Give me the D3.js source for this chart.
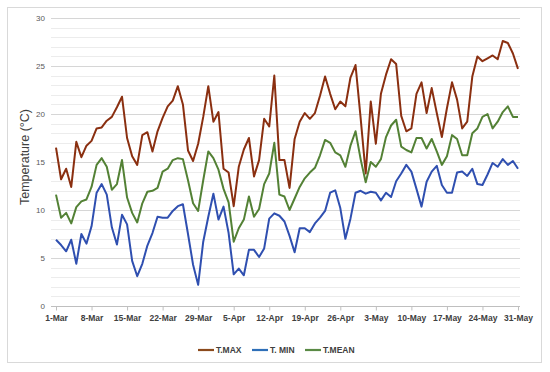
<!DOCTYPE html>
<html><head><meta charset="utf-8">
<script src="https://cdn.jsdelivr.net/npm/d3@7"></script>
<style>body{margin:0;background:#fff}svg{display:block}</style>
</head><body>
<svg id="c" width="550" height="372"></svg>
<script>
// Daily values, 1-Mar .. 31-May (92 days)
const tMax = [16.5,13.2,14.3,12.4,17.1,15.5,16.7,17.2,18.5,18.6,19.3,19.7,20.7,21.8,17.5,15.6,14.7,17.8,18.1,16.1,
  18.2,19.6,20.8,21.4,22.9,21.0,16.2,15.1,16.9,19.7,22.9,19.2,20.2,14.3,13.9,10.4,14.5,16.3,17.5,13.5,
  15.2,19.5,18.7,24.0,15.2,15.2,12.3,17.4,19.2,20.1,19.5,20.1,21.9,23.9,22.1,20.5,21.3,20.8,23.8,25.1,
  19.6,13.8,21.3,16.9,22.1,24.1,25.7,25.2,19.8,18.2,18.5,22.1,23.3,20.1,22.7,20.1,17.6,20.6,23.3,21.5,
  18.5,19.2,23.9,26.0,25.5,25.8,26.1,25.7,27.6,27.4,26.3,24.7];
const tMin = [6.9,6.35,5.7,6.9,4.4,7.5,6.5,8.3,11.8,12.7,11.6,8.2,6.4,9.5,8.5,4.7,3.1,4.4,6.3,7.6,
  9.3,9.2,9.2,9.9,10.4,10.6,7.5,4.3,2.2,6.7,9.3,11.7,9.0,10.35,7.6,3.3,3.9,3.2,5.85,5.85,
  5.1,6.0,9.1,9.65,9.4,8.8,7.3,5.6,8.1,8.1,7.7,8.6,9.2,9.9,11.8,12.05,10.2,7.0,9.1,11.8,
  12.0,11.7,11.9,11.8,11.0,11.8,11.35,13.0,13.8,14.7,14.0,12.2,10.35,12.95,14.0,14.6,12.6,11.8,11.8,13.9,
  14.0,13.55,14.3,12.7,12.6,13.7,14.9,14.5,15.3,14.7,15.1,14.3];
const tMean = [11.6,9.2,9.7,8.6,10.3,10.9,11.1,12.4,14.7,15.4,14.5,12.1,12.7,15.2,11.3,9.7,8.7,10.7,11.9,12.0,
  12.3,14.0,14.3,15.2,15.4,15.3,13.1,10.7,9.9,13.1,16.1,15.4,14.2,12.2,10.8,6.7,8.1,9.0,11.4,9.3,
  10.1,12.7,13.8,17.0,11.6,11.4,10.0,11.2,12.4,13.3,13.9,14.4,15.7,17.3,17.0,16.0,15.7,14.5,16.7,18.2,
  15.3,12.9,15.0,14.5,15.3,17.6,18.8,19.4,16.6,16.25,16.0,17.5,17.5,16.4,17.4,16.1,14.7,15.6,17.8,17.4,
  15.7,15.7,18.0,18.5,19.7,20.0,18.5,19.2,20.2,20.8,19.7,19.7];
const tickLabels = ["1-Mar","8-Mar","15-Mar","22-Mar","29-Mar","5-Apr","12-Apr","19-Apr","26-Apr","3-May","10-May","17-May","24-May","31-May"];
const yTicks = [0,5,10,15,20,25,30];
const seriesNames = ["T.MAX","T. MIN","T.MEAN"];
const seriesColors = ["#8a2f10","#2f4fb0","#538135"];
const legendColors = ["#8b4a1c","#2f6fb8","#5a8a45"];

const days = d3.range(tMax.length);
const svg = d3.select("#c");
const x = d3.scalePoint().domain(days).range([56, 518]);
const y = d3.scaleLinear().domain([0, 30]).range([306, 18]);

// frame
svg.append("rect").attr("x",7.5).attr("y",7.5).attr("width",534).attr("height",355)
  .attr("fill","#fff").attr("stroke","#d9d9d9");

// gridlines
const g = svg.append("g");
g.selectAll("line.minor").data(d3.range(1,31).filter(v=>v%5!==0)).join("line")
  .attr("x1",51).attr("x2",520).attr("y1",d=>Math.round(y(d))+0.5).attr("y2",d=>Math.round(y(d))+0.5)
  .attr("stroke","#ececec").attr("stroke-width",1);
g.selectAll("line.major").data(yTicks.filter(v=>v>0)).join("line")
  .attr("x1",51).attr("x2",520).attr("y1",d=>Math.round(y(d))+0.5).attr("y2",d=>Math.round(y(d))+0.5)
  .attr("stroke","#d6d6d6").attr("stroke-width",1);

// y axis labels
const yAxis = d3.axisLeft(y).tickValues(yTicks).tickSize(0).tickPadding(0);
const ya = svg.append("g").attr("transform","translate(45,0)").call(yAxis);
ya.select(".domain").remove();
ya.selectAll("text").attr("font-family","Liberation Sans, Arial, sans-serif").attr("font-size","8px").attr("fill","#595959");

// x axis
const tickIdx = tickLabels.map((t,i)=>i*7).map(i=>Math.min(i, days.length-1));
const xAxis = d3.axisBottom(x).tickValues(tickIdx).tickSize(4).tickPadding(4)
  .tickFormat((d,i)=>tickLabels[i]);
const xa = svg.append("g").attr("transform",`translate(0,${Math.round(y(0))+0.5})`).call(xAxis);
xa.select(".domain").attr("d","M51,0H520").attr("stroke","#bfbfbf");
xa.selectAll(".tick line").attr("stroke","#bfbfbf");
xa.selectAll("text").attr("font-family","Liberation Sans, Arial, sans-serif").attr("font-size","8.5px")
  .attr("font-weight","bold").attr("fill","#404040");

// y title
svg.append("text").attr("transform","translate(29,157) rotate(-90)").attr("text-anchor","middle")
  .attr("font-family","Liberation Sans, Arial, sans-serif").attr("font-size","12.5px").attr("fill","#404040")
  .text("Temperature (°C)");

// lines
const series = [tMax, tMin, tMean];
const line = d3.line().x((d,i)=>x(i)).y(d=>y(d));
svg.append("g").selectAll("path").data(series).join("path")
  .attr("d", line).attr("fill","none")
  .attr("stroke",(d,i)=>seriesColors[i]).attr("stroke-width",2).attr("stroke-linejoin","round");

// legend
const legX = [198, 252, 305];
const leg = svg.append("g");
seriesNames.forEach((n,i)=>{
  leg.append("line").attr("x1",legX[i]).attr("x2",legX[i]+16).attr("y1",350).attr("y2",350)
    .attr("stroke",legendColors[i]).attr("stroke-width",2.2);
  leg.append("text").attr("x",legX[i]+18).attr("y",353).attr("font-family","Liberation Sans, Arial, sans-serif")
    .attr("font-size","8.5px").attr("font-weight","bold").attr("fill","#404040").text(n);
});
</script>
</body></html>
